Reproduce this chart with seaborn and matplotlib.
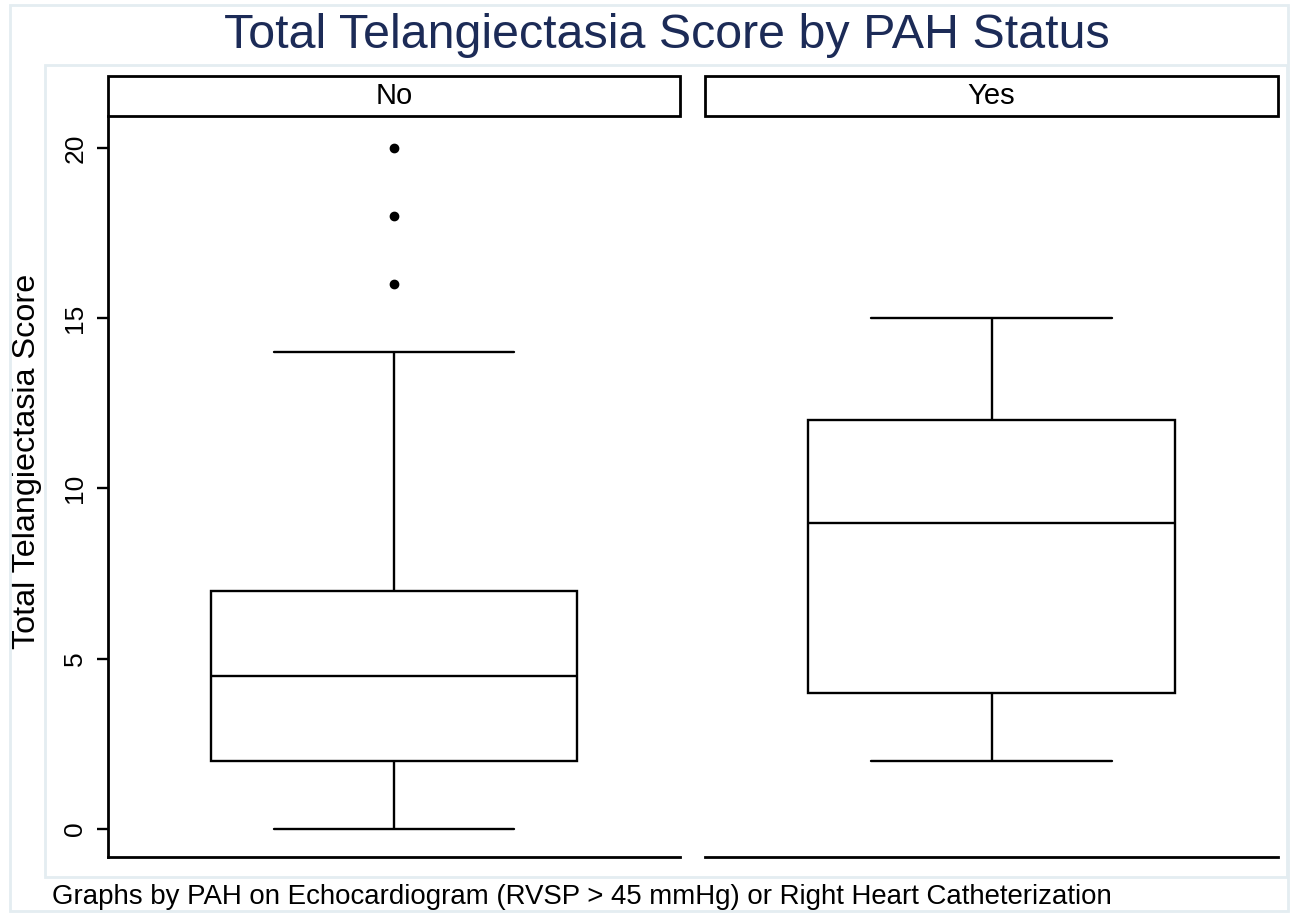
import matplotlib
matplotlib.use("Agg")
import matplotlib.pyplot as plt
from matplotlib.patches import Rectangle
import seaborn as sns
import pandas as pd

# Data (observations reconstructed to reproduce the box statistics)
groups = ["No", "Yes"]
score_no = [0, 1, 1, 2, 2, 2, 3, 3, 4, 4, 5, 5, 6, 6, 7, 7, 14, 16, 18, 20]
score_yes = [2, 3, 4, 6, 9, 10, 12, 14, 15]
yticks = [0, 5, 10, 15, 20]

title = "Total Telangiectasia Score by PAH Status"
ylabel = "Total Telangiectasia Score"
footer = "Graphs by PAH on Echocardiogram (RVSP > 45 mmHg) or Right Heart Catheterization"

df = pd.DataFrame({
    "PAH": ["No"] * len(score_no) + ["Yes"] * len(score_yes),
    "score": score_no + score_yes,
})

sns.set_style("white")
plt.rcParams["font.family"] = ["Liberation Sans", "DejaVu Sans"]
plt.rcParams["text.color"] = "black"
plt.rcParams["axes.labelcolor"] = "black"
plt.rcParams["ytick.color"] = "black"
plt.rcParams["xtick.color"] = "black"

W, H = 1290, 913
fig = plt.figure(figsize=(W / 100, H / 100), dpi=100)

def fx(px):
    return px / W

def fy(py):
    return 1 - py / H

frame_col = "#e4edf1"
# outer and inner light frames
fig.add_artist(Rectangle((fx(10), fy(911)), fx(1288) - fx(10), fy(5) - fy(911),
                         transform=fig.transFigure, fill=False, edgecolor=frame_col, lw=2))
fig.add_artist(Rectangle((fx(45), fy(877)), fx(1287) - fx(45), fy(65) - fy(877),
                         transform=fig.transFigure, fill=False, edgecolor=frame_col, lw=2))

panels = [(108, 680), (705, 1278)]
ax_top, ax_bot = 116, 857
strip_top = 76
ymin = -(857 - 829) / 34.05
ymax = (829 - 116) / 34.05

for i, (g, (x0, x1)) in enumerate(zip(groups, panels)):
    ax = fig.add_axes([fx(x0), fy(ax_bot), fx(x1) - fx(x0), fy(ax_top) - fy(ax_bot)])
    sub = df[df["PAH"] == g]
    sns.boxplot(data=sub, y="score", ax=ax, color="white", linecolor="black",
                linewidth=1.7, width=0.64, capwidths=0.42, fliersize=6,
                flierprops=dict(marker="o", markerfacecolor="black",
                                markeredgecolor="black"),
                medianprops=dict(color="black", linewidth=1.7))
    ax.set_xlim(-0.5, 0.5)
    ax.set_ylim(ymin, ymax)
    ax.set_xticks([])
    ax.set_xlabel("")
    ax.set_ylabel("")
    for s in ["top", "right"]:
        ax.spines[s].set_visible(False)
    ax.spines["bottom"].set_color("black")
    ax.spines["bottom"].set_linewidth(2)
    if i == 0:
        ax.spines["left"].set_color("black")
        ax.spines["left"].set_linewidth(2)
        ax.set_yticks(yticks)
        ax.set_yticklabels([str(t) for t in yticks], rotation=90, va="center",
                           fontsize=19)
        ax.tick_params(axis="y", direction="out", length=8, width=1.7,
                       color="black", pad=7, left=True)
        ax.set_ylabel(ylabel, fontsize=23.3)
        ax.yaxis.set_label_coords(-0.115, 0.534)
    else:
        ax.spines["left"].set_visible(False)
        ax.set_yticks([])
    # strip box
    fig.add_artist(Rectangle((fx(x0), fy(ax_top)), fx(x1) - fx(x0), fy(strip_top) - fy(ax_top),
                             transform=fig.transFigure, fill=True, facecolor="white",
                             edgecolor="black", lw=2))
    fig.text((fx(x0) + fx(x1)) / 2, fy(104), g,
             ha="center", va="baseline", fontsize=21, color="black")

fig.text(fx(667), fy(48), title, ha="center", va="baseline", fontsize=34.8, color="#1c2b57")
fig.text(fx(52), fy(904), footer, ha="left", va="baseline", fontsize=19.9, color="black")

fig.savefig("out.png", dpi=100)
